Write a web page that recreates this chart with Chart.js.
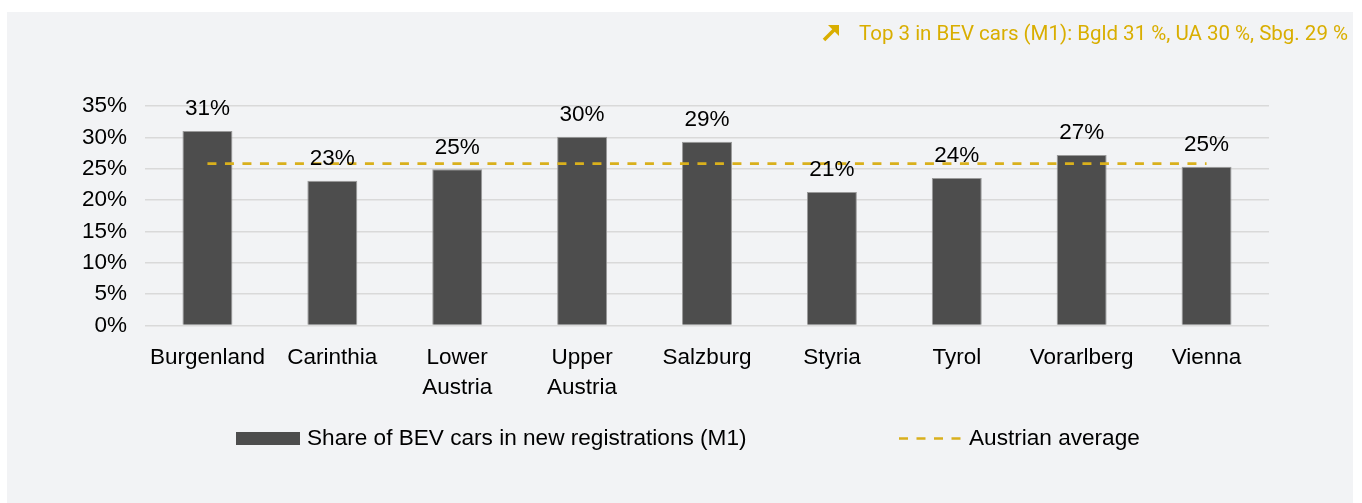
<!DOCTYPE html>
<html>
<head>
<meta charset="utf-8">
<script src="https://cdn.jsdelivr.net/npm/chart.js@4/dist/chart.umd.min.js"></script>
<style>
  html, body { margin: 0; padding: 0; background: #ffffff; }
  body { width: 1362px; height: 503px; position: relative; overflow: hidden; font-family: "Liberation Sans", Arial, sans-serif; }
  #panel { position: absolute; left: 7px; top: 12px; width: 1346px; height: 491px; background: #F2F3F5; }
  #chartWrap { position: absolute; left: 0; top: 0; width: 1346px; height: 491px; }
  #note { position: absolute; right: 5px; top: 9px; height: 24px; line-height: 24px; color: #D9AE00; font-family: Roboto, "DejaVu Sans", sans-serif; font-size: 20.5px; white-space: nowrap; }
  #note svg { position: absolute; left: -37px; top: 3px; }
  .lg { position: absolute; font-size: 22.6px; color: #000; white-space: nowrap; line-height: 26px; }
  .swatch { position: absolute; }
</style>
</head>
<body>
<div id="panel">
  <div id="chartWrap"><canvas id="c" width="1346" height="491"></canvas></div>
  <div id="note"><svg width="18" height="18" viewBox="0 0 18 18"><line x1="2" y1="16" x2="12" y2="6" stroke="#D9AE00" stroke-width="3.6"/><polygon points="6,1 17,1 17,12" fill="#D9AE00"/></svg><span id="noteText"></span></div>
  <div class="swatch" style="left:229px; top:420px; width:64px; height:13px; background:#4D4D4D;"></div>
  <div class="lg" id="lg1" style="left:300px; top:413px;"></div>
  <svg class="swatch" style="left:892px; top:424px;" width="64" height="5"><line x1="0" y1="2.5" x2="64" y2="2.5" stroke="#D9B01C" stroke-width="2.7" stroke-dasharray="9,8.5"/></svg>
  <div class="lg" id="lg2" style="left:962px; top:413px;"></div>
</div>
<script>
const categories = ["Burgenland", "Carinthia", ["Lower", "Austria"], ["Upper", "Austria"], "Salzburg", "Styria", "Tyrol", "Vorarlberg", "Vienna"];
const bevShare = [31.0, 23.1, 24.9, 30.1, 29.3, 21.3, 23.5, 27.2, 25.3];
const austrianAverage = [25.8, 25.8, 25.8, 25.8, 25.8, 25.8, 25.8, 25.8, 25.8];
const yTicks = [0, 5, 10, 15, 20, 25, 30, 35];
const seriesNames = ["Share of BEV cars in new registrations (M1)", "Austrian average"];
const noteText = "Top 3 in BEV cars (M1): Bgld 31 %, UA 30 %, Sbg. 29 %";

document.getElementById('noteText').textContent = noteText;
document.getElementById('lg1').textContent = seriesNames[0];
document.getElementById('lg2').textContent = seriesNames[1];

const FONT = "'Liberation Sans', Arial, sans-serif";
const FS = 22.5;

const barLabels = {
  id: 'barLabels',
  afterDatasetsDraw(chart) {
    const meta = chart.getDatasetMeta(0);
    const ctx = chart.ctx;
    ctx.save();
    ctx.font = FS + "px " + FONT;
    ctx.fillStyle = '#000000';
    ctx.textAlign = 'center';
    ctx.textBaseline = 'middle';
    meta.data.forEach((bar, i) => {
      ctx.fillText(Math.round(bevShare[i]) + '%', bar.x, bar.y - 22);
    });
    ctx.restore();
  }
};

new Chart(document.getElementById('c'), {
  data: {
    labels: categories,
    datasets: [
      {
        type: 'bar',
        label: seriesNames[0],
        data: bevShare,
        backgroundColor: '#4D4D4D',
        borderColor: '#9A9A9A',
        borderWidth: 1,
        barPercentage: 0.8,
        categoryPercentage: 0.5,
        order: 1
      },
      {
        type: 'line',
        label: seriesNames[1],
        data: austrianAverage,
        borderColor: '#D9B01C',
        borderWidth: 2.7,
        borderDash: [9, 8.5],
        pointRadius: 0,
        fill: false,
        order: 0
      }
    ]
  },
  options: {
    responsive: false,
    animation: false,
    layout: { padding: { top: 94, right: 84, bottom: 97.5, left: 0 } },
    plugins: { legend: { display: false }, tooltip: { enabled: false } },
    scales: {
      x: {
        grid: { display: false, drawTicks: false },
        border: { display: false },
        ticks: { color: '#000', font: { family: FONT, size: FS, lineHeight: 1.3 }, padding: 18, maxRotation: 0, autoSkip: false },
        afterFit(scale) { scale.height = 80; }
      },
      y: {
        min: 0, max: 35,
        afterBuildTicks(scale) { scale.ticks = yTicks.map(v => ({ value: v })); },
        grid: { color: '#D9D9D9', lineWidth: 1.5, drawTicks: false },
        border: { display: false },
        ticks: { color: '#000', font: { family: FONT, size: FS }, padding: 18, callback: v => v + '%' },
        afterFit(scale) { scale.width = 138; }
      }
    }
  },
  plugins: [barLabels]
});
</script>
</body>
</html>
